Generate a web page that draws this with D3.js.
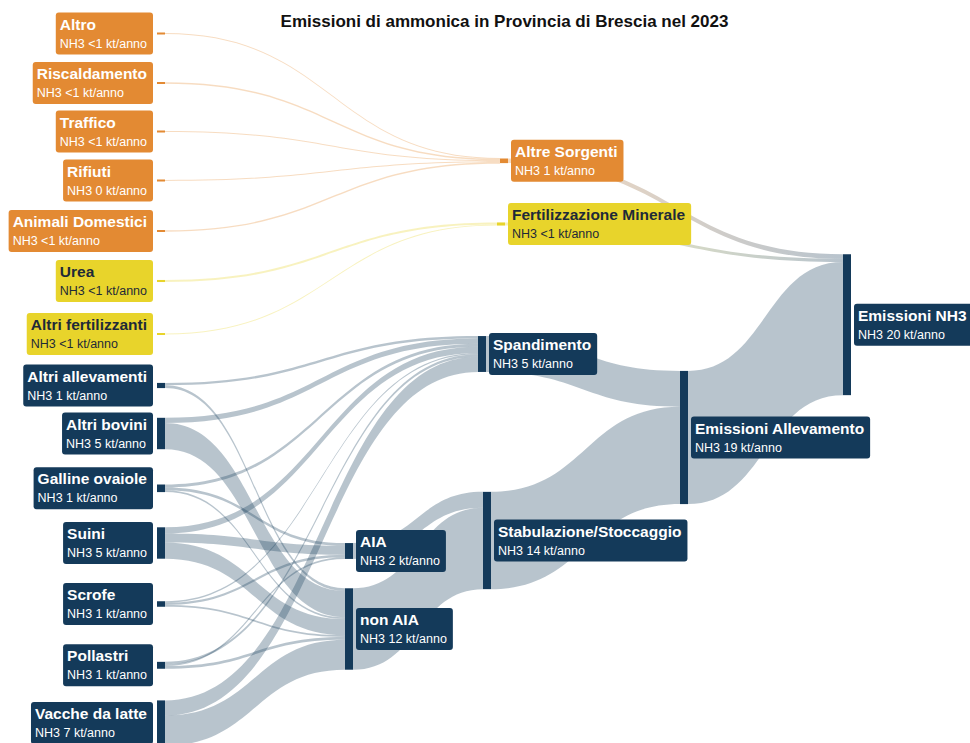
<!DOCTYPE html>
<html>
<head>
<meta charset="utf-8">
<script src="https://cdn.jsdelivr.net/npm/d3@7"></script>
<style>
  html, body { margin: 0; padding: 0; background: #fff; }
  svg { display: block; font-family: "Liberation Sans", Arial, Helvetica, sans-serif; }
</style>
</head>
<body>
<div class="chart"></div>
<script>
// #region Data (kt/anno)
const chartTitle = "Emissioni di ammonica in Provincia di Brescia nel 2023";

const otherSources = ["Altro", "Riscaldamento", "Traffico", "Rifiuti", "Animali Domestici"];
const otherValues = [0.12, 0.2, 0.15, 0, 0.2];

const fertSources = ["Urea", "Altri fertilizzanti"];
const fertValues = [0.3, 0.15];

const livestock = ["Altri allevamenti", "Altri bovini", "Galline ovaiole", "Suini", "Scrofe", "Pollastri", "Vacche da latte"];
const toSpandimento = [0.35, 0.75, 0.45, 0.9, 0.2, 0.35, 2.2];
const toAIA = [0, 0, 0.4, 1.3, 0.35, 0.25, 0];
const toNonAIA = [0.4, 3.8, 0.25, 2.35, 0.25, 0.4, 4.35];
// #endregion

// #region Layout (column + vertical centre of each node, as arranged in the original)
const columnX = [157, 345, 488, 680, 843];
const nodeLayout = {
    "Altro": { col: 0, cy: 33.5 },
    "Riscaldamento": { col: 0, cy: 83 },
    "Traffico": { col: 0, cy: 131.5 },
    "Rifiuti": { col: 0, cy: 180.5 },
    "Animali Domestici": { col: 0, cy: 231 },
    "Urea": { col: 0, cy: 281 },
    "Altri fertilizzanti": { col: 0, cy: 334 },
    "Altri allevamenti": { col: 0, cy: 385.5 },
    "Altri bovini": { col: 0, cy: 433.5 },
    "Galline ovaiole": { col: 0, cy: 488.3 },
    "Suini": { col: 0, cy: 543 },
    "Scrofe": { col: 0, cy: 604 },
    "Pollastri": { col: 0, cy: 665.3 },
    "Vacche da latte": { col: 0, cy: 723 },
    "AIA": { col: 1, cy: 551 },
    "non AIA": { col: 1, cy: 629 },
    "Altre Sorgenti": { col: 2, cy: 160.8, dx: 12 },
    "Fertilizzazione Minerale": { col: 2, cy: 224, dx: 9 },
    "Spandimento": { col: 2, cy: 354, dx: -10 },
    "Stabulazione/Stoccaggio": { col: 2, cy: 540.5, dx: -5 },
    "Emissioni Allevamento": { col: 3, cy: 437.5 },
    "Emissioni NH3": { col: 4, cy: 324.7 }
};
const ORANGE = "#e38a33", YELLOW = "#e8d42b", NAVY = "#143a5a";
// #endregion

const width = 970, height = 743, barW = 8;

// #region Build graph
let links = [];
otherSources.forEach((s, i) => links.push({ source: s, target: "Altre Sorgenti", value: otherValues[i] }));
fertSources.forEach((s, i) => links.push({ source: s, target: "Fertilizzazione Minerale", value: fertValues[i] }));
livestock.forEach((s, i) => {
    if (toSpandimento[i] > 0) links.push({ source: s, target: "Spandimento", value: toSpandimento[i] });
    if (toAIA[i] > 0) links.push({ source: s, target: "AIA", value: toAIA[i] });
    if (toNonAIA[i] > 0) links.push({ source: s, target: "non AIA", value: toNonAIA[i] });
});
links.push({ source: "AIA", target: "Stabulazione/Stoccaggio", value: d3.sum(toAIA) });
links.push({ source: "non AIA", target: "Stabulazione/Stoccaggio", value: d3.sum(toNonAIA) });
links.push({ source: "Spandimento", target: "Emissioni Allevamento", value: d3.sum(toSpandimento) });
links.push({ source: "Stabulazione/Stoccaggio", target: "Emissioni Allevamento", value: d3.sum(toAIA) + d3.sum(toNonAIA) });
links.push({ source: "Altre Sorgenti", target: "Emissioni NH3", value: d3.sum(otherValues) });
links.push({ source: "Fertilizzazione Minerale", target: "Emissioni NH3", value: d3.sum(fertValues) });
links.push({ source: "Emissioni Allevamento", target: "Emissioni NH3", value: d3.sum(livestock, (d, i) => toSpandimento[i] + toAIA[i] + toNonAIA[i]) });

const orangeNodes = otherSources.concat(["Altre Sorgenti"]);
const yellowNodes = fertSources.concat(["Fertilizzazione Minerale"]);

let nodes = Object.keys(nodeLayout).map(name => ({
    name: name,
    col: nodeLayout[name].col,
    cy: nodeLayout[name].cy,
    dx: nodeLayout[name].dx || 0,
    color: orangeNodes.includes(name) ? ORANGE : (yellowNodes.includes(name) ? YELLOW : NAVY),
    sourceLinks: [],
    targetLinks: []
}));
let nodeByName = new Map(nodes.map(n => [n.name, n]));
links.forEach(l => {
    l.source = nodeByName.get(l.source);
    l.target = nodeByName.get(l.target);
    l.source.sourceLinks.push(l);
    l.target.targetLinks.push(l);
});
// #endregion

// #region Layout computation
let kScale = d3.scaleLinear().domain([0, 20]).range([0, 138]);
let xScale = d3.scaleOrdinal().domain(d3.range(columnX.length)).range(columnX);

nodes.forEach(n => {
    n.value = Math.max(d3.sum(n.sourceLinks, l => l.value), d3.sum(n.targetLinks, l => l.value));
    n.h = Math.max(2, kScale(n.value));
    n.y0 = n.cy - n.h / 2;
    n.x0 = xScale(n.col) + n.dx;
    n.x1 = n.x0 + barW;
});
links.forEach(l => { l.w = Math.max(1, kScale(l.value)); });
nodes.forEach(n => {
    n.sourceLinks.sort((a, b) => a.target.cy - b.target.cy);
    let tot = d3.sum(n.sourceLinks, l => l.w);
    let y = n.cy - Math.max(tot, n.h) / 2 + Math.max(0, (n.h - tot) / 2);
    n.sourceLinks.forEach(l => { l.sy = y; y += l.w; });

    n.targetLinks.sort((a, b) => a.source.cy - b.source.cy);
    tot = d3.sum(n.targetLinks, l => l.w);
    y = n.cy - Math.max(tot, n.h) / 2 + Math.max(0, (n.h - tot) / 2);
    n.targetLinks.forEach(l => { l.ty = y; y += l.w; });
});
// #endregion

// #region SVG
let svg = d3.select(".chart").append("svg")
    .attr("width", width)
    .attr("height", height);
let defs = svg.append("defs");

svg.append("text")
    .attr("x", 504.5)
    .attr("y", 27)
    .attr("text-anchor", "middle")
    .attr("font-size", 17)
    .attr("font-weight", "bold")
    .attr("fill", "#111")
    .text(chartTitle);

function bandPath(l) {
    let x0 = l.source.x1, x1 = l.target.x0, xm = (x0 + x1) / 2;
    return "M" + x0 + "," + l.sy +
        "C" + xm + "," + l.sy + " " + xm + "," + l.ty + " " + x1 + "," + l.ty +
        "L" + x1 + "," + (l.ty + l.w) +
        "C" + xm + "," + (l.ty + l.w) + " " + xm + "," + (l.sy + l.w) + " " + x0 + "," + (l.sy + l.w) + "Z";
}

let gLinks = svg.append("g").attr("class", "links");
links.forEach((l, i) => {
    let fill = l.source.color;
    if (l.source.color !== l.target.color) {
        let id = "grad" + i;
        let grad = defs.append("linearGradient")
            .attr("id", id)
            .attr("gradientUnits", "userSpaceOnUse")
            .attr("x1", l.source.x1).attr("x2", l.target.x0)
            .attr("y1", 0).attr("y2", 0);
        grad.append("stop").attr("offset", "0%").attr("stop-color", l.source.color);
        grad.append("stop").attr("offset", "100%").attr("stop-color", l.target.color);
        fill = "url(#" + id + ")";
    }
    gLinks.append("path")
        .attr("d", bandPath(l))
        .attr("fill", fill)
        .attr("fill-opacity", 0.3);
});

svg.append("g").attr("class", "nodes")
    .selectAll("rect")
    .data(nodes)
    .enter()
    .append("rect")
    .attr("x", d => d.x0)
    .attr("y", d => d.y0)
    .attr("width", barW)
    .attr("height", d => d.h)
    .attr("fill", d => d.color);
// #endregion

// #region Labels
function fmtKt(v) {
    let r = Math.round(v);
    return "NH3 " + (r > 0 ? r : (v > 0 ? "<1" : "0")) + " kt/anno";
}

let gLabels = svg.append("g").attr("class", "labels");
nodes.forEach(n => {
    let g = gLabels.append("g");
    let rect = g.append("rect").attr("rx", 3).attr("ry", 3).attr("fill", n.color);
    let txtColor = n.color === YELLOW ? "#1e2a38" : "#fff";
    let t1 = g.append("text")
        .attr("font-size", 15.5)
        .attr("font-weight", "bold")
        .attr("fill", txtColor)
        .text(n.name);
    let t2 = g.append("text")
        .attr("font-size", 12.5)
        .attr("fill", txtColor)
        .text(fmtKt(n.value));
    let tw = Math.max(t1.node().getComputedTextLength(), t2.node().getComputedTextLength());
    let bw = tw + 10, bh = 42;
    let bx = n.col === 0 ? n.x0 - 4 - bw : n.x1 + 3;
    let by = n.cy - bh / 2;
    rect.attr("x", bx).attr("y", by).attr("width", bw).attr("height", bh);
    t1.attr("x", bx + 4).attr("y", by + 17);
    t2.attr("x", bx + 4).attr("y", by + 35);
});
// #endregion
</script>
</body>
</html>
